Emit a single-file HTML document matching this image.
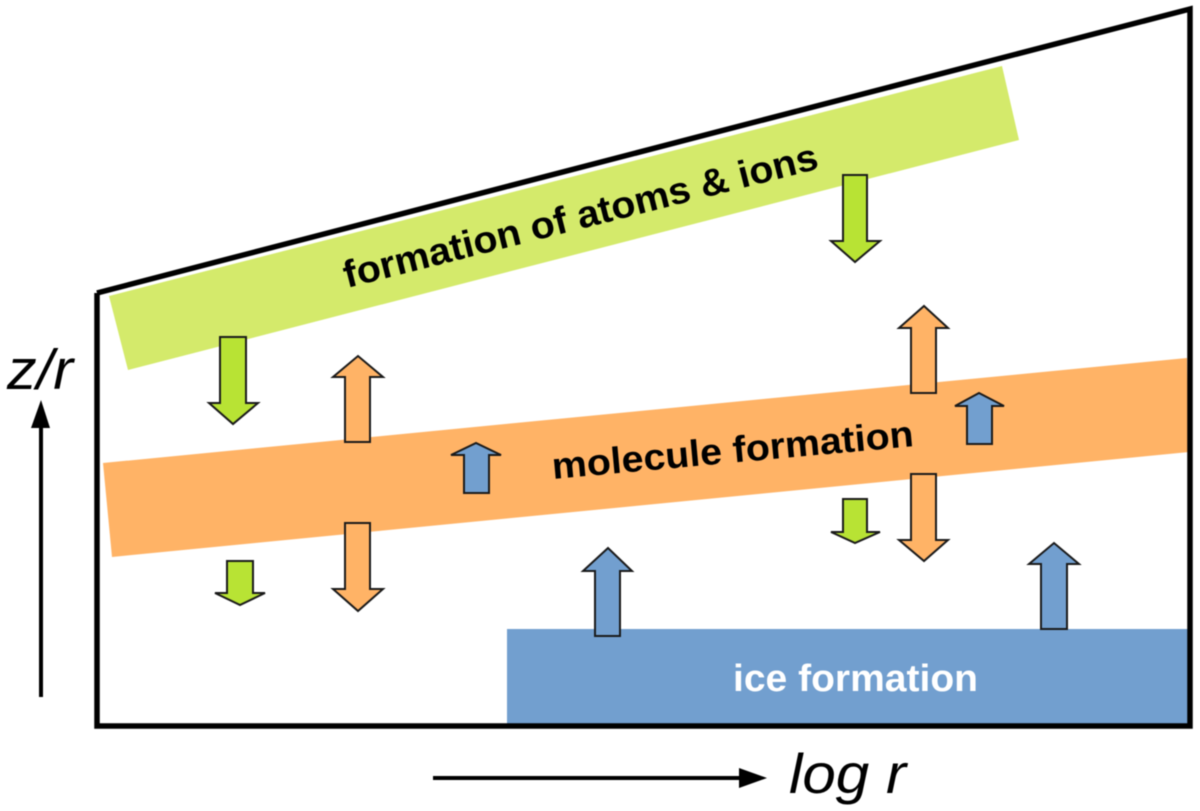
<!DOCTYPE html>
<html>
<head>
<meta charset="utf-8">
<style>
html,body{margin:0;padding:0;background:#fff;width:1200px;height:811px;overflow:hidden}
svg{display:block;filter:blur(0.5px)}
text{font-family:"Liberation Sans",sans-serif}
.a{stroke:#1a1a1a;stroke-width:2;stroke-linejoin:miter}
.g{fill:#b8e334}.o{fill:#ffb366}.b{fill:#729fcf}
</style>
</head>
<body>
<svg width="1200" height="811" viewBox="0 0 1200 811" xmlns="http://www.w3.org/2000/svg">
<polygon points="109,296 1002,66 1019,140 128,370" fill="#d4ea6b"/>
<polygon points="103,463 1187,358 1189,452 112,557" fill="#ffb366"/>
<rect x="507" y="629" width="681" height="95" fill="#729fcf"/>
<polyline points="97,293 1190,9 1190,726 97,726 97,293" fill="none" stroke="#000" stroke-width="5.5" stroke-linejoin="miter"/>

<polygon class="a g" points="220,337 246,337 246,403 258,403 233,424 209,403 220,403"/>
<polygon class="a g" points="227,561 253,561 253,593 265,593 240,605 215,593 227,593"/>
<polygon class="a g" points="843,175 867,175 867,241 880,241 855,262 831,241 843,241"/>
<polygon class="a g" points="843,499 867,499 867,532 880,532 855,543 831,532 843,532"/>

<polygon class="a o" points="345,442 370,442 370,377 383,377 358,356 333,377 345,377"/>
<polygon class="a o" points="345,523 370,523 370,589 383,589 358,611 333,589 345,589"/>
<polygon class="a o" points="911,393 936,393 936,328 948,328 924,306 899,328 911,328"/>
<polygon class="a o" points="911,474 936,474 936,540 948,540 924,561 899,540 911,540"/>

<polygon class="a b" points="464,493 489,493 489,455 501,455 476,443 451,455 464,455"/>
<polygon class="a b" points="967,444 992,444 992,406 1004,406 979,393 955,406 967,406"/>
<polygon class="a b" points="595,636 620,636 620,571 632,571 608,548 583,571 595,571"/>
<polygon class="a b" points="1041,629 1067,629 1067,564 1079,564 1054,543 1029,564 1041,564"/>

<line x1="41" y1="697" x2="41" y2="425" stroke="#000" stroke-width="4"/>
<polygon points="41,400 50,428 31,428" fill="#000"/>
<line x1="433" y1="778" x2="742" y2="778" stroke="#000" stroke-width="4"/>
<polygon points="767,778 739,768 739,788" fill="#000"/>

<text x="0" y="0" transform="translate(347,288) rotate(-14.2)" font-size="38" font-weight="bold" fill="#000" textLength="488" lengthAdjust="spacingAndGlyphs">formation of atoms &amp; ions</text>
<text x="0" y="0" transform="translate(553,479) rotate(-5.2)" font-size="37" font-weight="bold" fill="#000" textLength="363" lengthAdjust="spacingAndGlyphs">molecule formation</text>
<text x="733" y="691" font-size="38" font-weight="bold" fill="#fff" textLength="245" lengthAdjust="spacingAndGlyphs">ice formation</text>
<text x="7" y="389" font-size="57" font-style="italic" fill="#000" textLength="66" lengthAdjust="spacingAndGlyphs">z/r</text>
<text x="789" y="793" font-size="56" font-style="italic" fill="#000" textLength="117" lengthAdjust="spacingAndGlyphs">log r</text>
</svg>
</body>
</html>
